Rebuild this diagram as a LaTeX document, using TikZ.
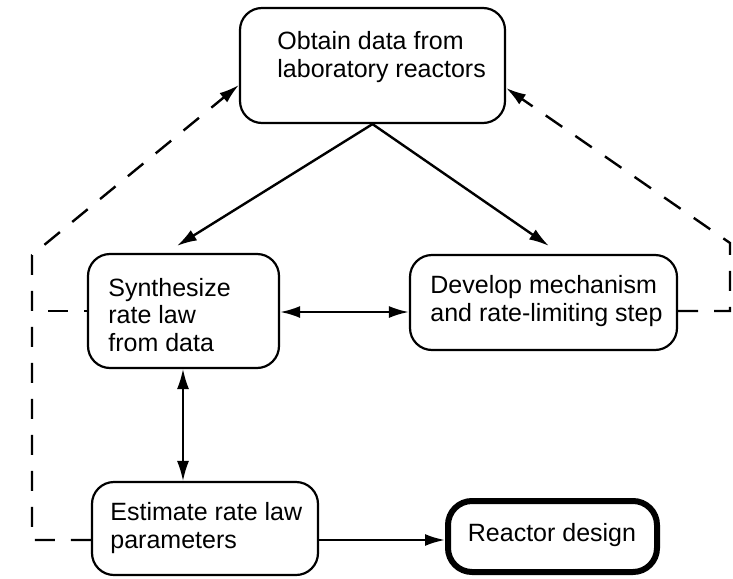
\documentclass[tikz,border=0pt]{standalone}
\usepackage{fontspec}
\setmainfont{Liberation Sans}
\usetikzlibrary{arrows.meta,calc}
\begin{document}
\begin{tikzpicture}[x=0.5pt,y=-0.5pt,
  boxst/.style={draw, rounded corners=11pt, line width=1.1pt, inner sep=0pt},
  lbl/.style={align=left, font=\fontsize{12.5pt}{13.75pt}\selectfont, inner sep=0pt, anchor=west},
  arr/.style={line width=1.2pt, -{Latex[length=10pt,width=6pt]}},
  darr/.style={line width=1.2pt, {Latex[length=10pt,width=6pt]}-{Latex[length=10pt,width=6pt]}},
  vdarr/.style={line width=0.8pt, {Latex[length=10pt,width=6pt]}-{Latex[length=10pt,width=6pt]}},
  dsh/.style={line width=1.2pt, dash pattern=on 10pt off 8pt},
]
\useasboundingbox[fill=white] (0,0) rectangle (733,578);

% boxes
\node[boxst, minimum width=132.5pt, minimum height=57.5pt] (ob) at (372.5,65.5) {};
\node[boxst, minimum width=95.5pt, minimum height=57pt] (sy) at (183.5,311) {};
\node[boxst, minimum width=133.5pt, minimum height=47.5pt] (de) at (543.5,302.5) {};
\node[boxst, minimum width=113pt, minimum height=46.5pt] (es) at (205,528.5) {};
\node[draw, rounded corners=12pt, line width=3pt, inner sep=0pt, minimum width=104.5pt, minimum height=35.5pt] (re) at (552.5,536.5) {};

% texts
\node[lbl] (obt) at (277,57) {Obtain data from\\laboratory reactors};
\node[lbl] (syt) at (108,315) {Synthesize\\rate law\\from data};
\node[lbl] (det) at (430,301) {Develop mechanism\\and rate-limiting step};
\node[lbl] (est) at (110,528) {Estimate rate law\\parameters};
\node[lbl, anchor=center] (ret) at (552,535) {Reactor design};

% helper coordinates
\coordinate (ya) at (0,540);
\coordinate (yb) at (0,311);
\coordinate (lbot) at (32,540);
\coordinate (ltop) at (32,255);
\coordinate (rbot) at (730,311);
\coordinate (rtop) at (730,243);
\coordinate (lmid) at (32,311);

% solid connectors
\draw[arr] (ob.south) -- ($(sy.north west)+(90,-7)$);
\draw[arr] (ob.south) -- ($(de.north west)+(140,-8)$);
\draw[darr] (sy.east |- 0,312) -- (de.west |- 0,312);
\draw[vdarr] (sy.south -| 183,0) -- (es.north -| 183,0);
\draw[arr] (es.east |- ya) -- (re.west |- ya);

% dashed feedback
\draw[dsh, -{Latex[length=10pt,width=6pt]}] (es.west |- ya) -- (lbot) -- (ltop) -- (ob.west |- 0,85);
\draw[dsh, dash phase=10pt] (lmid) -- (sy.west |- yb);
\draw[dsh, -{Latex[length=10pt,width=6pt]}] (de.east |- yb) -- (rbot) -- (rtop) -- (ob.east |- 0,88);
\end{tikzpicture}
\end{document}
